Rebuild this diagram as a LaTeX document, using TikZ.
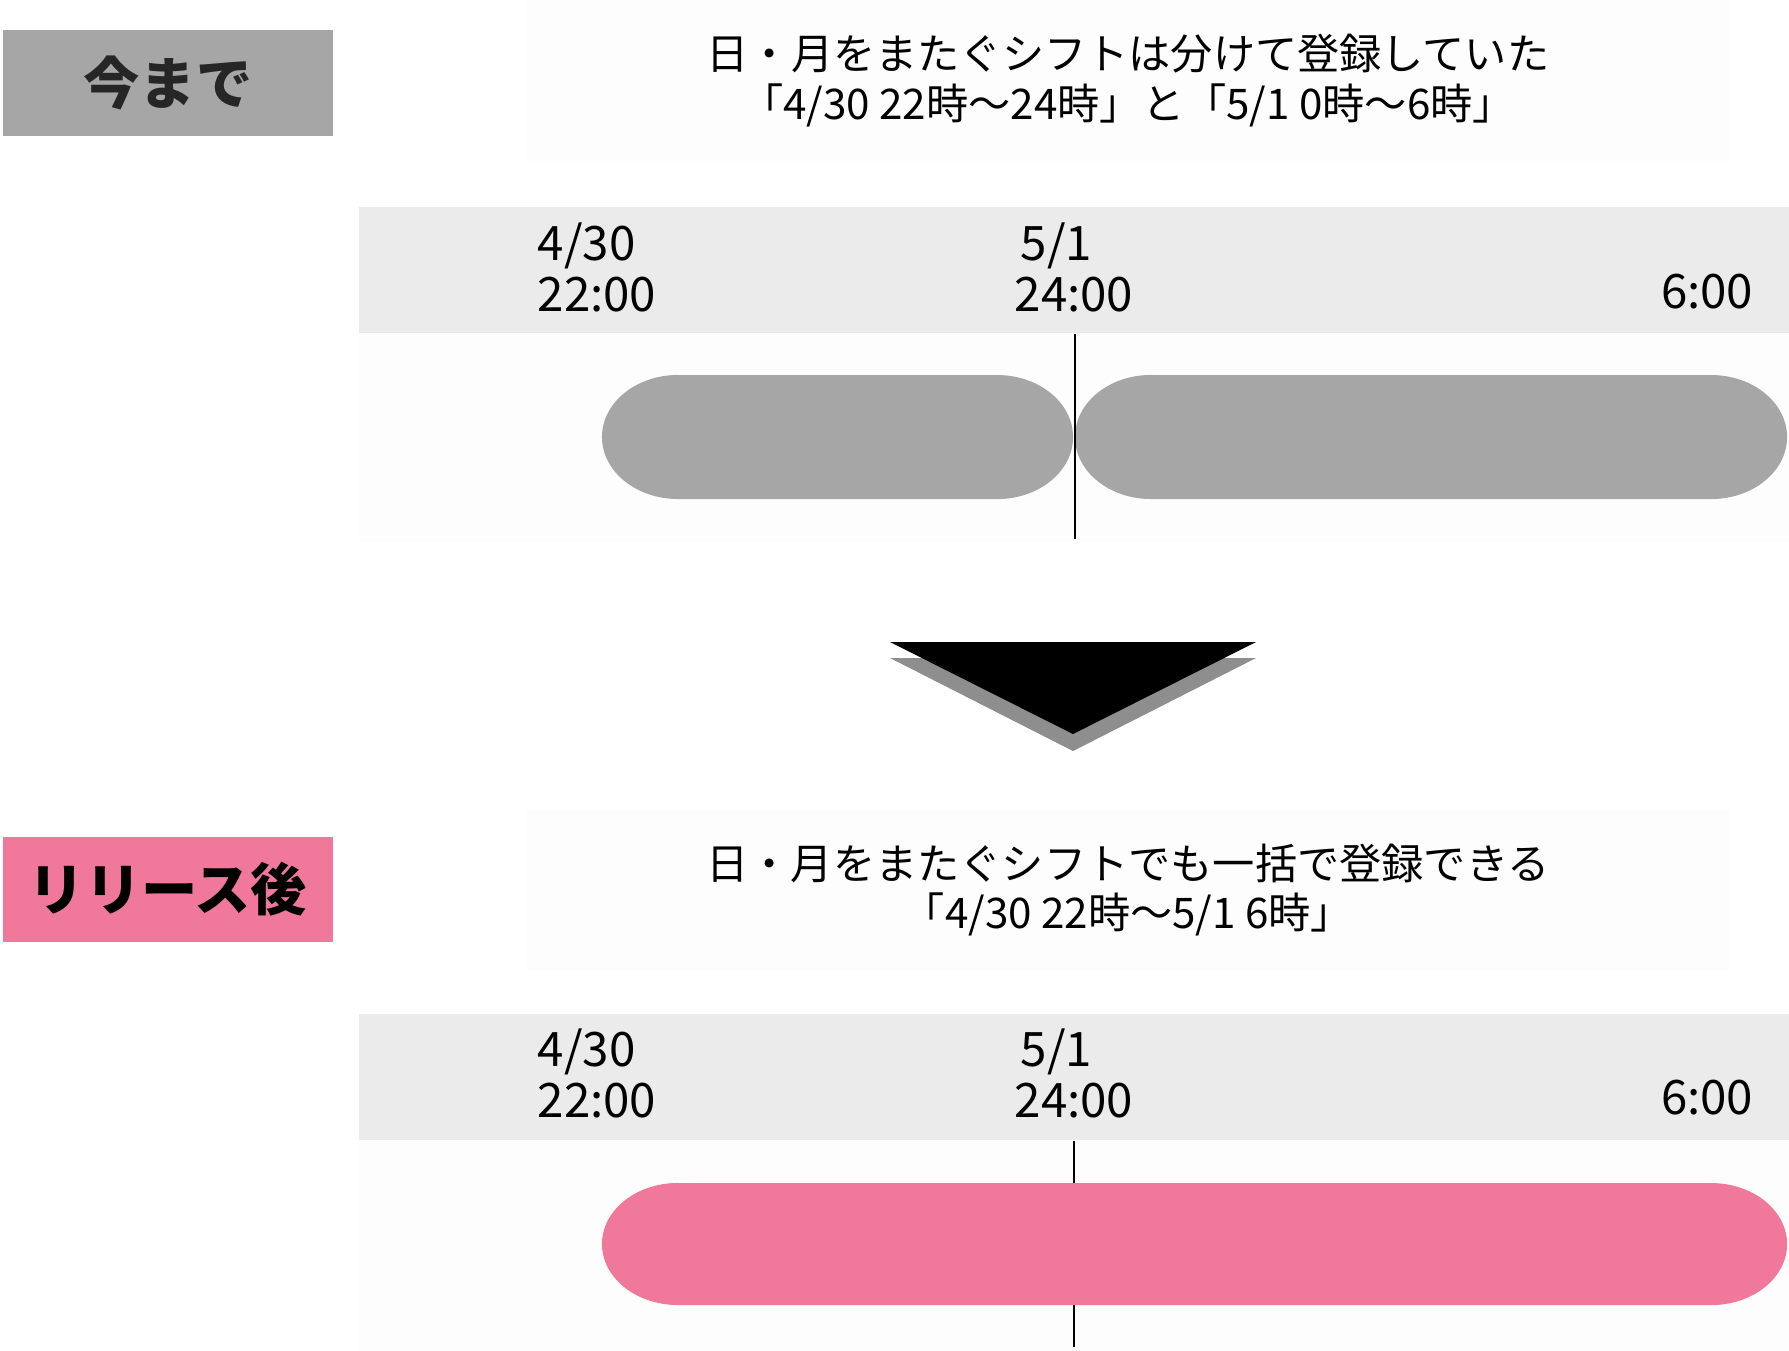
\documentclass[tikz,border=0pt]{standalone}
\usepackage{fontspec}
\setmainfont{Noto Sans CJK JP}
\usepackage{tikz}
\usetikzlibrary{positioning}
\definecolor{tagGray}{HTML}{A6A6A6}
\definecolor{tagPink}{HTML}{F0789B}
\definecolor{bandGray}{HTML}{EBEBEB}
\definecolor{paleGray}{HTML}{FDFDFD}
\definecolor{shadeGray}{HTML}{8E8E8E}

\begin{document}
\begin{tikzpicture}[x=0.01cm, y=-0.01cm,
    tag/.style={align=center, minimum width=3.3cm, minimum height=1.05cm,
                font=\fontsize{16}{18}\selectfont\bfseries},
    note/.style={fill=paleGray, align=center, minimum width=12.02cm,
                 minimum height=1.62cm, font=\fontsize{12}{14.2}\selectfont},
    band/.style={fill=bandGray, minimum width=14.3cm, minimum height=1.26cm},
    pale/.style={fill=paleGray, minimum width=14.3cm, minimum height=2.06cm},
    stamp/.style={align=left, inner sep=0pt, font=\fontsize{13.5}{14.5}\selectfont},
    cut/.style={black, line width=0.65pt}]
    \useasboundingbox[fill=white] (0,0) rectangle (1789,1350);

    % before
    \node[tag, fill=tagGray, text=black!85] (before) at (168,83) {今まで};
    \node[note] (msgbefore) at (1128,81)
      {日・月をまたぐシフトは分けて登録していた\\
       「4/30 22時～24時」と「5/1 0時～6時」};
    \node[band] (bandtop) at (1074,270) {};
    \node[pale, below=0pt of bandtop] (areatop) {};
    \node[stamp, anchor=west] (start1) at (537,267) {4/30\\22:00};
    \node[stamp, anchor=west] (mid1)   at (1014,267) {\hspace{0.6mm}5/1\\24:00};
    \node[stamp, anchor=east] (end1)   at (1754,292) {6:00};

    \fill[tagGray] (678,375) -- (997,375)
      arc[start angle=90, end angle=-90, x radius=0.76cm, y radius=0.62cm]
      -- (678,499)
      arc[start angle=270, end angle=90, x radius=0.76cm, y radius=0.62cm] -- cycle;
    \fill[tagGray] (1151,375) -- (1711,375)
      arc[start angle=90, end angle=-90, x radius=0.76cm, y radius=0.62cm]
      -- (1151,499)
      arc[start angle=270, end angle=90, x radius=0.76cm, y radius=0.62cm] -- cycle;
    \coordinate (split1) at (1075,539);
    \draw[cut] (split1 |- bandtop.south) -- (split1);

    % arrow
    \fill[shadeGray] (890,658) -- (1256,658) -- (1073,751) -- cycle;
    \fill[black] (890,642) -- (1256,642) -- (1073,734) -- cycle;

    % after
    \node[tag, fill=tagPink, text=black] (after) at (168,889) {リリース後};
    \node[note] (msgafter) at (1128,890)
      {日・月をまたぐシフトでも一括で登録できる\\
       「4/30 22時～5/1 6時」};
    \node[band] (bandbot) at (1074,1077) {};
    \node[pale, below=0pt of bandbot, minimum height=2.1cm] (areabot) {};
    \node[stamp, anchor=west] (start2) at (537,1073) {4/30\\22:00};
    \node[stamp, anchor=west] (mid2)   at (1014,1073) {\hspace{0.6mm}5/1\\24:00};
    \node[stamp, anchor=east] (end2)   at (1754,1098) {6:00};

    \coordinate (split2) at (1074,1347);
    \draw[cut] (split2 |- bandbot.south) -- (split2);
    \fill[tagPink] (678,1183) -- (1711,1183)
      arc[start angle=90, end angle=-90, x radius=0.76cm, y radius=0.61cm]
      -- (678,1305)
      arc[start angle=270, end angle=90, x radius=0.76cm, y radius=0.61cm] -- cycle;
\end{tikzpicture}
\end{document}
